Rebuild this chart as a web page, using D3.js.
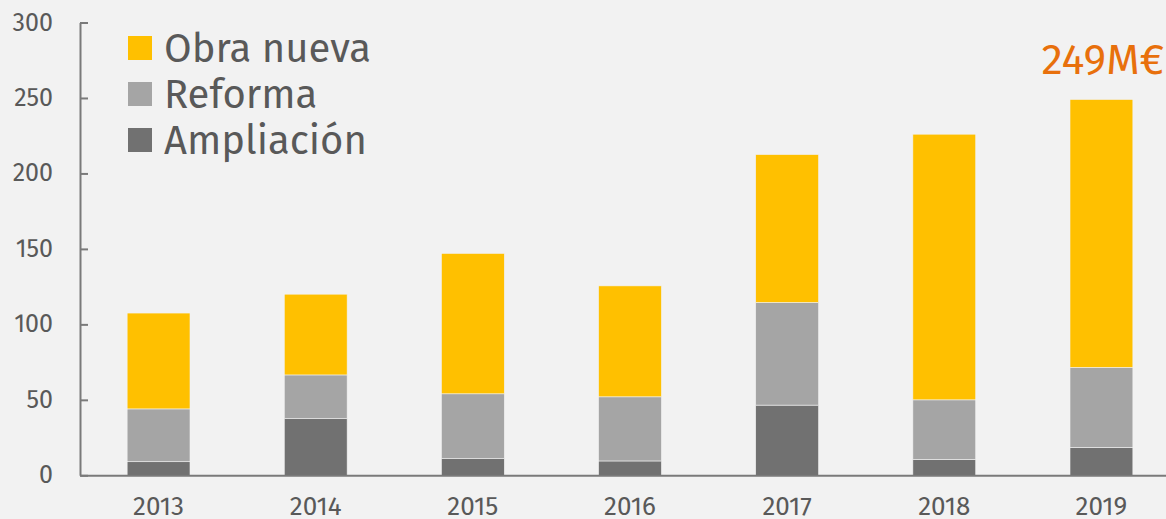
<!DOCTYPE html>
<html>
<head>
<meta charset="utf-8">
<script src="https://cdn.jsdelivr.net/npm/d3@7"></script>
<style>
  html, body { margin: 0; padding: 0; background: #f2f2f2; overflow: hidden; }
  svg { display: block; }
</style>
</head>
<body>
<div id="chart"></div>
<script>
//data
var years = ["2013", "2014", "2015", "2016", "2017", "2018", "2019"];
var ampliacion = [9, 37.5, 11, 9.5, 46.5, 10.5, 18.5];
var reforma = [35, 29, 43, 42.5, 68, 39.5, 53];
var obraNueva = [63.5, 53.5, 93, 73.5, 98, 176, 177.5];
var seriesNames = ["Ampliación", "Reforma", "Obra nueva"];
var yTicks = [0, 50, 100, 150, 200, 250, 300];
var totalLabel = "249M€";

//variables
var width = 1166, height = 519;
var colors = { "Obra nueva": "#ffc000", "Reforma": "#a5a5a5", "Ampliación": "#717171" };
var textColor = "#595959";
var font = "'Fira Sans', 'Noto Sans', sans-serif";

var table = years.map(function(y, i) {
  return { year: y, "Ampliación": ampliacion[i], "Reforma": reforma[i], "Obra nueva": obraNueva[i] };
});
var stacked = d3.stack().keys(seriesNames)(table);

var svg = d3.select("#chart").append("svg")
  .attr("width", width)
  .attr("height", height)
  .style("font-family", font);

var x = d3.scaleBand()
  .domain(years)
  .range([80, 1180])
  .paddingInner(0.6)
  .paddingOuter(0.3);

var y = d3.scaleLinear()
  .domain([0, 300])
  .range([475.3, 22.5]);

//bars
svg.selectAll("g.series")
  .data(stacked)
  .enter().append("g")
  .attr("class", "series")
  .attr("fill", function(d) { return colors[d.key]; })
  .selectAll("rect")
  .data(function(d) { return d; })
  .enter().append("rect")
  .attr("x", function(d) { return x(d.data.year); })
  .attr("width", x.bandwidth())
  .attr("y", function(d) { return y(d[1]); })
  .attr("height", function(d) { return y(d[0]) - y(d[1]); })
  .attr("stroke", "#f2f2f2")
  .attr("stroke-width", 0.6);

//y axis
var yAxis = svg.append("g")
  .attr("transform", "translate(80,0)")
  .call(d3.axisRight(y).tickValues(yTicks).tickSize(8).tickSizeOuter(0));
yAxis.select(".domain").attr("stroke", "#7a7a7a").attr("stroke-width", 2);
yAxis.selectAll(".tick line").attr("stroke", "#7a7a7a").attr("stroke-width", 2);
yAxis.selectAll(".tick text")
  .attr("x", -27)
  .attr("dy", "0.3em")
  .attr("text-anchor", "end")
  .attr("fill", textColor)
  .style("font-size", "25px")
  .style("font-family", font);

//x axis
var xAxis = svg.append("g")
  .attr("transform", "translate(0," + y(0) + ")")
  .call(d3.axisBottom(x).tickSize(0).tickSizeOuter(0));
xAxis.select(".domain").attr("stroke", "#7a7a7a").attr("stroke-width", 2);
xAxis.selectAll(".tick text")
  .attr("y", 40)
  .attr("dy", 0)
  .attr("fill", textColor)
  .style("font-size", "26px")
  .style("font-family", font);

//total label
var last = years[years.length - 1];
svg.append("text")
  .attr("x", x(last) + x.bandwidth() / 2 - 60)
  .attr("y", y(d3.sum([ampliacion[6], reforma[6], obraNueva[6]])) - 25)
  .attr("text-anchor", "start")
  .attr("fill", "#e8700c")
  .style("font-size", "43px")
  .text(totalLabel);

//legend
var legendOrder = ["Obra nueva", "Reforma", "Ampliación"];
var legend = svg.selectAll(".legend")
  .data(legendOrder)
  .enter().append("g")
  .attr("class", "legend")
  .attr("transform", function(d, i) { return "translate(128," + (36 + i * 46) + ")"; });

legend.append("rect")
  .attr("width", 24)
  .attr("height", 24)
  .attr("fill", function(d) { return colors[d]; });

legend.append("text")
  .attr("x", 36)
  .attr("y", 26)
  .attr("fill", textColor)
  .style("font-size", "40px")
  .text(function(d) { return d; });
</script>
</body>
</html>
